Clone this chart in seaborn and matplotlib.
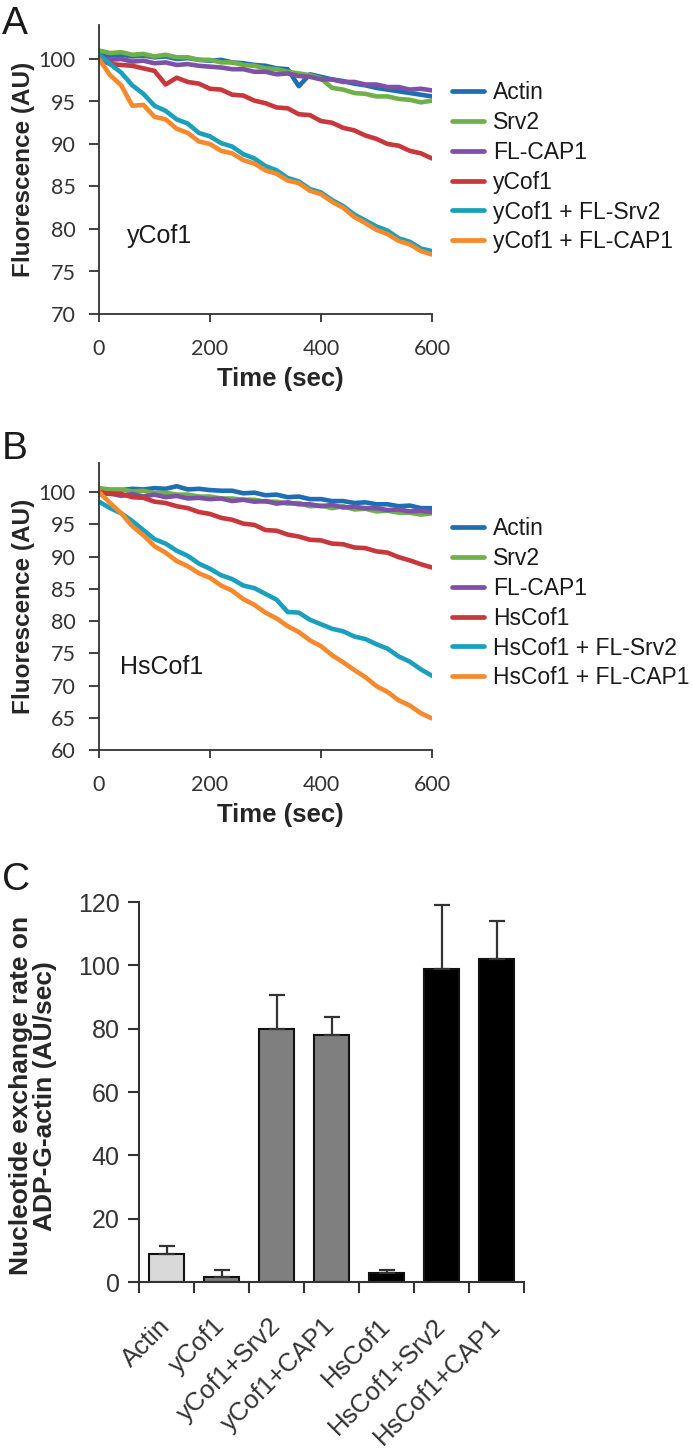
import numpy as np
import pandas as pd
import matplotlib
matplotlib.use("Agg")
import matplotlib.pyplot as plt
import seaborn as sns

# ---------------- data ----------------
time_s = [0, 20, 40, 60, 80, 100, 120, 140, 160, 180, 200, 220, 240, 260, 280, 300,
          320, 340, 360, 380, 400, 420, 440, 460, 480, 500, 520, 540, 560, 580, 600]

a_labels = ["Actin", "Srv2", "FL-CAP1", "yCof1", "yCof1 + FL-Srv2", "yCof1 + FL-CAP1"]
a_actin = [100.6, 100.4, 100.5, 100.3, 100.4, 100.2, 100.3, 100.0, 100.1, 99.9, 99.8, 99.9, 99.6, 99.5, 99.3, 99.2,
           98.9, 98.8, 96.8, 98.2, 97.9, 97.6, 97.4, 97.1, 96.9, 96.6, 96.4, 96.2, 96.0, 95.8, 95.6]
a_srv2 = [101.0, 100.7, 100.8, 100.5, 100.6, 100.3, 100.5, 100.2, 100.2, 99.9, 99.9, 99.6, 99.6, 99.3, 99.2, 98.9,
          98.8, 98.5, 98.3, 98.1, 97.7, 96.6, 96.4, 96.0, 95.9, 95.6, 95.6, 95.3, 95.2, 94.9, 95.1]
a_cap1 = [100.2, 99.9, 100.0, 99.7, 99.8, 99.5, 99.6, 99.3, 99.4, 99.2, 99.1, 99.0, 98.8, 98.8, 98.5, 98.5,
          98.2, 98.3, 98.0, 97.9, 97.6, 97.6, 97.3, 97.3, 97.0, 97.0, 96.7, 96.7, 96.4, 96.5, 96.3]
a_ycof1 = [100.0, 99.4, 99.3, 99.2, 98.9, 98.6, 97.0, 97.8, 97.3, 97.1, 96.5, 96.4, 95.8, 95.7, 95.1, 94.8,
           94.3, 94.2, 93.5, 93.4, 92.7, 92.5, 91.9, 91.6, 91.0, 90.6, 90.0, 89.8, 89.2, 88.9, 88.3]
a_ycof1_srv2 = [100.5, 99.4, 98.4, 96.9, 95.9, 94.5, 93.9, 92.9, 92.4, 91.3, 90.9, 90.1, 89.7, 88.8, 88.3, 87.4,
                86.9, 86.0, 85.6, 84.7, 84.3, 83.4, 82.7, 81.7, 81.0, 80.3, 79.8, 78.9, 78.5, 77.7, 77.4]
a_ycof1_cap1 = [100.0, 98.1, 96.9, 94.5, 94.6, 93.2, 92.9, 91.8, 91.3, 90.3, 90.0, 89.2, 88.9, 88.1, 87.7, 86.9,
                86.5, 85.7, 85.4, 84.5, 84.1, 83.2, 82.5, 81.4, 80.7, 79.9, 79.4, 78.6, 78.2, 77.4, 77.0]

b_labels = ["Actin", "Srv2", "FL-CAP1", "HsCof1", "HsCof1 + FL-Srv2", "HsCof1 + FL-CAP1"]
b_actin = [100.0, 100.3, 100.3, 100.5, 100.4, 100.6, 100.5, 100.9, 100.4, 100.5, 100.3, 100.2, 100.2, 99.8, 99.9, 99.5,
           99.6, 99.2, 99.3, 98.9, 98.9, 98.6, 98.6, 98.3, 98.4, 98.1, 98.1, 97.8, 97.9, 97.5, 97.5]
b_srv2 = [100.6, 100.4, 100.4, 100.1, 100.2, 99.8, 99.9, 99.6, 99.6, 99.3, 99.3, 99.0, 99.0, 98.8, 98.8, 98.5,
          98.5, 98.2, 98.3, 97.8, 97.9, 97.5, 97.8, 97.3, 97.4, 97.0, 97.1, 96.8, 96.8, 96.5, 96.7]
b_cap1 = [99.6, 99.8, 99.4, 99.7, 99.3, 99.6, 99.2, 99.4, 99.0, 99.1, 98.9, 99.0, 98.6, 98.8, 98.5, 98.6,
          98.2, 98.4, 98.1, 98.1, 97.8, 98.0, 97.6, 97.7, 97.5, 97.5, 97.2, 97.3, 97.0, 97.1, 96.9]
b_hscof1 = [100.0, 99.7, 99.7, 99.2, 99.1, 98.5, 98.3, 97.8, 97.5, 96.9, 96.6, 96.0, 95.7, 95.1, 94.9, 94.1,
            94.0, 93.4, 93.1, 92.6, 92.5, 92.0, 91.9, 91.4, 91.3, 90.8, 90.6, 89.9, 89.4, 88.8, 88.3]
b_hscof1_srv2 = [98.5, 97.5, 96.7, 95.5, 94.1, 92.7, 92.0, 90.9, 90.1, 88.9, 88.1, 87.1, 86.5, 85.5, 85.1, 84.2,
                 83.3, 81.4, 81.3, 80.2, 79.5, 78.8, 78.4, 77.6, 77.2, 76.4, 75.7, 74.5, 73.7, 72.5, 71.5]
b_hscof1_cap1 = [100.0, 98.3, 96.7, 94.7, 93.3, 91.6, 90.6, 89.3, 88.5, 87.4, 86.7, 85.5, 84.7, 83.4, 82.5, 81.3,
                 80.4, 79.2, 78.3, 77.0, 76.1, 74.7, 73.6, 72.4, 71.3, 69.9, 69.0, 67.7, 66.9, 65.7, 64.9]

line_colors = ["#1f6db3", "#70b04a", "#7e50a6", "#c8373b", "#1aa0bd", "#f5892c"]

c_categories = ["Actin", "yCof1", "yCof1+Srv2", "yCof1+CAP1", "HsCof1", "HsCof1+Srv2", "HsCof1+CAP1"]
c_values = [9.0, 1.7, 79.8, 78.0, 2.8, 98.9, 101.9]
c_errors = [2.3, 2.0, 10.7, 5.8, 0.9, 20.1, 12.0]
c_colors = ["#d9d9d9", "#7f7f7f", "#7f7f7f", "#7f7f7f", "#000000", "#000000", "#000000"]

# ---------------- style ----------------
sns.set_theme(style="ticks")
plt.rcParams["font.family"] = ["Liberation Sans", "DejaVu Sans"]
plt.rcParams["axes.edgecolor"] = "#333333"
plt.rcParams["xtick.color"] = "#333333"
plt.rcParams["ytick.color"] = "#333333"
plt.rcParams["text.color"] = "#1a1a1a"

W, H = 693, 1456
fig = plt.figure(figsize=(W / 100, H / 100), dpi=100)


def frac(left, top, right, bottom):
    return [left / W, 1 - bottom / H, (right - left) / W, (bottom - top) / H]


def line_panel(rect, labels, series, ylim, yticks, inner_text, text_xy, legend_top):
    ax = fig.add_axes(rect)
    frames = []
    for lab, vals in zip(labels, series):
        frames.append(pd.DataFrame({"time": time_s, "fl": vals, "cond": lab}))
    df = pd.concat(frames, ignore_index=True)
    sns.lineplot(data=df, x="time", y="fl", hue="cond", hue_order=labels,
                 palette=line_colors, linewidth=3.3, ax=ax)
    ax.set_xlim(0, 600)
    ax.set_ylim(*ylim)
    ax.set_xticks([0, 200, 400, 600])
    ax.set_yticks(yticks)
    for s in ["top", "right"]:
        ax.spines[s].set_visible(False)
    for s in ["left", "bottom"]:
        ax.spines[s].set_linewidth(1.3)
    ax.tick_params(axis="y", direction="out", length=7, width=1.3, pad=10, labelsize=15.5)
    ax.tick_params(axis="x", direction="out", length=6, width=1.3, pad=12, labelsize=15.5)
    for t in ax.get_xticklabels() + ax.get_yticklabels():
        t.set_fontfamily(["Lato", "DejaVu Sans"])
    ax.set_xlabel("Time (sec)", fontsize=18.5, fontweight="bold", labelpad=0)
    ax.xaxis.set_label_coords((280 - 99) / 333, -0.185)
    ax.set_ylabel("Fluorescence (AU)", fontsize=17.5, fontweight="bold")
    ax.yaxis.set_label_coords((35 - 99) / 333, 0.5)
    ax.text(text_xy[0], text_xy[1], inner_text, transform=ax.transData,
            fontsize=18, va="center", ha="left")
    handles, labs = ax.get_legend_handles_labels()
    ax.legend(handles, labs, loc="upper left",
              bbox_to_anchor=(452 / W, 1 - legend_top / H), bbox_transform=fig.transFigure,
              frameon=False, fontsize=16.5, handlelength=1.4, handletextpad=0.4,
              labelspacing=0.3, borderpad=0, borderaxespad=0)
    for lh in ax.get_legend().get_lines():
        lh.set_linewidth(3.4)
    return ax


axA = line_panel(frac(99, 25, 432, 314), a_labels,
                 [a_actin, a_srv2, a_cap1, a_ycof1, a_ycof1_srv2, a_ycof1_cap1],
                 (70, 104), [70, 75, 80, 85, 90, 95, 100], "yCof1", (50, 79.2), 81)
axB = line_panel(frac(99, 463, 432, 750), b_labels,
                 [b_actin, b_srv2, b_cap1, b_hscof1, b_hscof1_srv2, b_hscof1_cap1],
                 (60, 104.5), [60, 65, 70, 75, 80, 85, 90, 95, 100], "HsCof1", (38, 72.8), 517)

# ---------------- panel C ----------------
c_left, c_top, c_right, c_bottom = 139, 902, 524, 1282
axC = fig.add_axes(frac(c_left, c_top, c_right, c_bottom))
sns.barplot(x=c_categories, y=c_values, hue=c_categories, palette=c_colors, legend=False,
            edgecolor="#111111", linewidth=1.5, width=0.65, ax=axC)
axC.errorbar(x=np.arange(len(c_values)), y=c_values,
             yerr=[np.zeros(len(c_errors)), c_errors], fmt="none",
             ecolor="#333333", elinewidth=1.6, capsize=6, capthick=1.6)
axC.set_xlim(-0.5, 6.5)
axC.set_ylim(0, 120)
axC.set_yticks([0, 20, 40, 60, 80, 100, 120])
axC.set_xticks(np.arange(-0.5, 7, 1.0))
axC.set_xticklabels([])
axC.set_xticks(np.arange(7), minor=True)
axC.set_xticklabels(c_categories, minor=True, rotation=45, ha="right", va="center",
                    rotation_mode="anchor", fontsize=18.5)
axC.tick_params(axis="x", which="major", direction="out", length=8, width=1.5)
axC.tick_params(axis="x", which="minor", length=0, pad=29)
axC.tick_params(axis="y", direction="out", length=8, width=1.5, pad=6, labelsize=18)
for s in ["top", "right"]:
    axC.spines[s].set_visible(False)
for s in ["left", "bottom"]:
    axC.spines[s].set_linewidth(1.5)
axC.set_xlabel("")
axC.set_ylabel("Nucleotide exchange rate on\nADP-G-actin (AU/sec)", fontsize=19,
               fontweight="bold", linespacing=1.0)
axC.yaxis.set_label_coords((57 - c_left) / (c_right - c_left), 0.49)

# panel letters
for letter, ytop in [("A", 6), ("B", 431), ("C", 862)]:
    fig.text(2 / W, 1 - ytop / H, letter, fontsize=28, va="top", ha="left")

fig.savefig("out.png", dpi=100)
